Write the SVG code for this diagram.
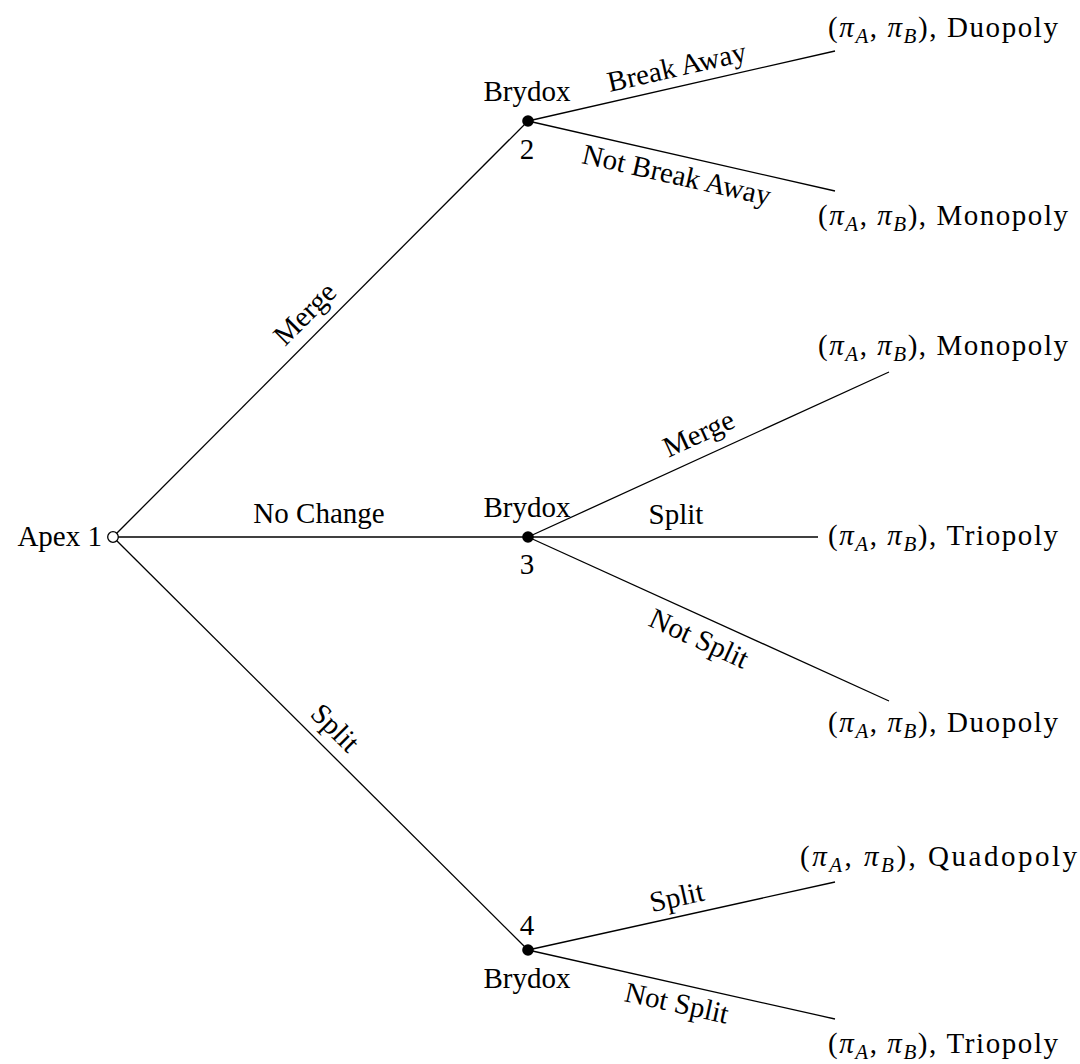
<svg xmlns="http://www.w3.org/2000/svg" width="1080" height="1064" viewBox="0 0 1080 1064">
<style>
text{font-family:"Liberation Serif","DejaVu Serif",serif;font-size:29px;fill:#000}
.c{text-anchor:middle}
.e{text-anchor:end}
.i{font-style:italic}
.s{font-style:italic;font-size:21px}
line{stroke:#000;stroke-width:1.3}
.dot{fill:#000}
</style>
<rect width="1080" height="1064" fill="#fff"/>
<g id="connectors">
<line x1="113" y1="537" x2="528" y2="121"/>
<line x1="113" y1="537" x2="528" y2="537"/>
<line x1="113" y1="537" x2="528" y2="950"/>
<line x1="528" y1="121" x2="835" y2="51"/>
<line x1="528" y1="121" x2="835" y2="191"/>
<line x1="528" y1="537" x2="889" y2="372"/>
<line x1="528" y1="537" x2="818" y2="537"/>
<line x1="528" y1="537" x2="889" y2="701"/>
<line x1="528" y1="950" x2="835" y2="882"/>
<line x1="528" y1="950" x2="835" y2="1019"/>
<text class="c" transform="translate(320,329) rotate(-45)" y="-12">Merge</text>
<text class="c" x="319" y="523">No Change</text>
<text class="c" transform="translate(320,743) rotate(45)" y="-12">Split</text>
<text class="c" transform="translate(681,86) rotate(-12.8)" y="-10">Break Away</text>
<text class="c" transform="translate(681,156) rotate(12.8)" y="29">Not Break Away</text>
<text class="c" transform="translate(708,454) rotate(-24.6)" y="-13">Merge</text>
<text class="c" x="676" y="524">Split</text>
<text class="c" transform="translate(708,619) rotate(24.6)" y="31">Not Split</text>
<text class="c" transform="translate(681,916) rotate(-12.5)" y="-10">Split</text>
<text class="c" transform="translate(681,984) rotate(12.5)" y="29">Not Split</text>
</g>
<g id="apex">
<circle cx="113" cy="537" r="5.3" fill="#fff" stroke="#000" stroke-width="1.3"/>
<text class="e" x="102" y="546">Apex 1</text>
</g>
<g id="node2">
<circle class="dot" cx="528" cy="121" r="5.8"/>
<text class="c" x="527" y="101">Brydox</text>
<text class="c" x="527" y="159">2</text>
</g>
<g id="node3">
<circle class="dot" cx="528" cy="537" r="5.8"/>
<text class="c" x="527" y="517">Brydox</text>
<text class="c" x="527" y="574">3</text>
</g>
<g id="node4">
<circle class="dot" cx="528" cy="950" r="5.8"/>
<text class="c" x="527" y="935">4</text>
<text class="c" x="527" y="988">Brydox</text>
</g>
<g id="t1"><text x="828" y="37" textLength="230">(<tspan class="i">π</tspan><tspan class="s" dy="6">A</tspan><tspan dy="-6">, </tspan><tspan class="i">π</tspan><tspan class="s" dy="6">B</tspan><tspan dy="-6">), Duopoly</tspan></text></g>
<g id="t2"><text x="818" y="225" textLength="250">(<tspan class="i">π</tspan><tspan class="s" dy="6">A</tspan><tspan dy="-6">, </tspan><tspan class="i">π</tspan><tspan class="s" dy="6">B</tspan><tspan dy="-6">), Monopoly</tspan></text></g>
<g id="t3"><text x="818" y="355" textLength="250">(<tspan class="i">π</tspan><tspan class="s" dy="6">A</tspan><tspan dy="-6">, </tspan><tspan class="i">π</tspan><tspan class="s" dy="6">B</tspan><tspan dy="-6">), Monopoly</tspan></text></g>
<g id="t4"><text x="828" y="545" textLength="230">(<tspan class="i">π</tspan><tspan class="s" dy="6">A</tspan><tspan dy="-6">, </tspan><tspan class="i">π</tspan><tspan class="s" dy="6">B</tspan><tspan dy="-6">), Triopoly</tspan></text></g>
<g id="t5"><text x="828" y="732" textLength="230">(<tspan class="i">π</tspan><tspan class="s" dy="6">A</tspan><tspan dy="-6">, </tspan><tspan class="i">π</tspan><tspan class="s" dy="6">B</tspan><tspan dy="-6">), Duopoly</tspan></text></g>
<g id="t6"><text x="800" y="866" textLength="277">(<tspan class="i">π</tspan><tspan class="s" dy="6">A</tspan><tspan dy="-6">, </tspan><tspan class="i">π</tspan><tspan class="s" dy="6">B</tspan><tspan dy="-6">), Quadopoly</tspan></text></g>
<g id="t7"><text x="828" y="1053" textLength="230">(<tspan class="i">π</tspan><tspan class="s" dy="6">A</tspan><tspan dy="-6">, </tspan><tspan class="i">π</tspan><tspan class="s" dy="6">B</tspan><tspan dy="-6">), Triopoly</tspan></text></g>
</svg>
